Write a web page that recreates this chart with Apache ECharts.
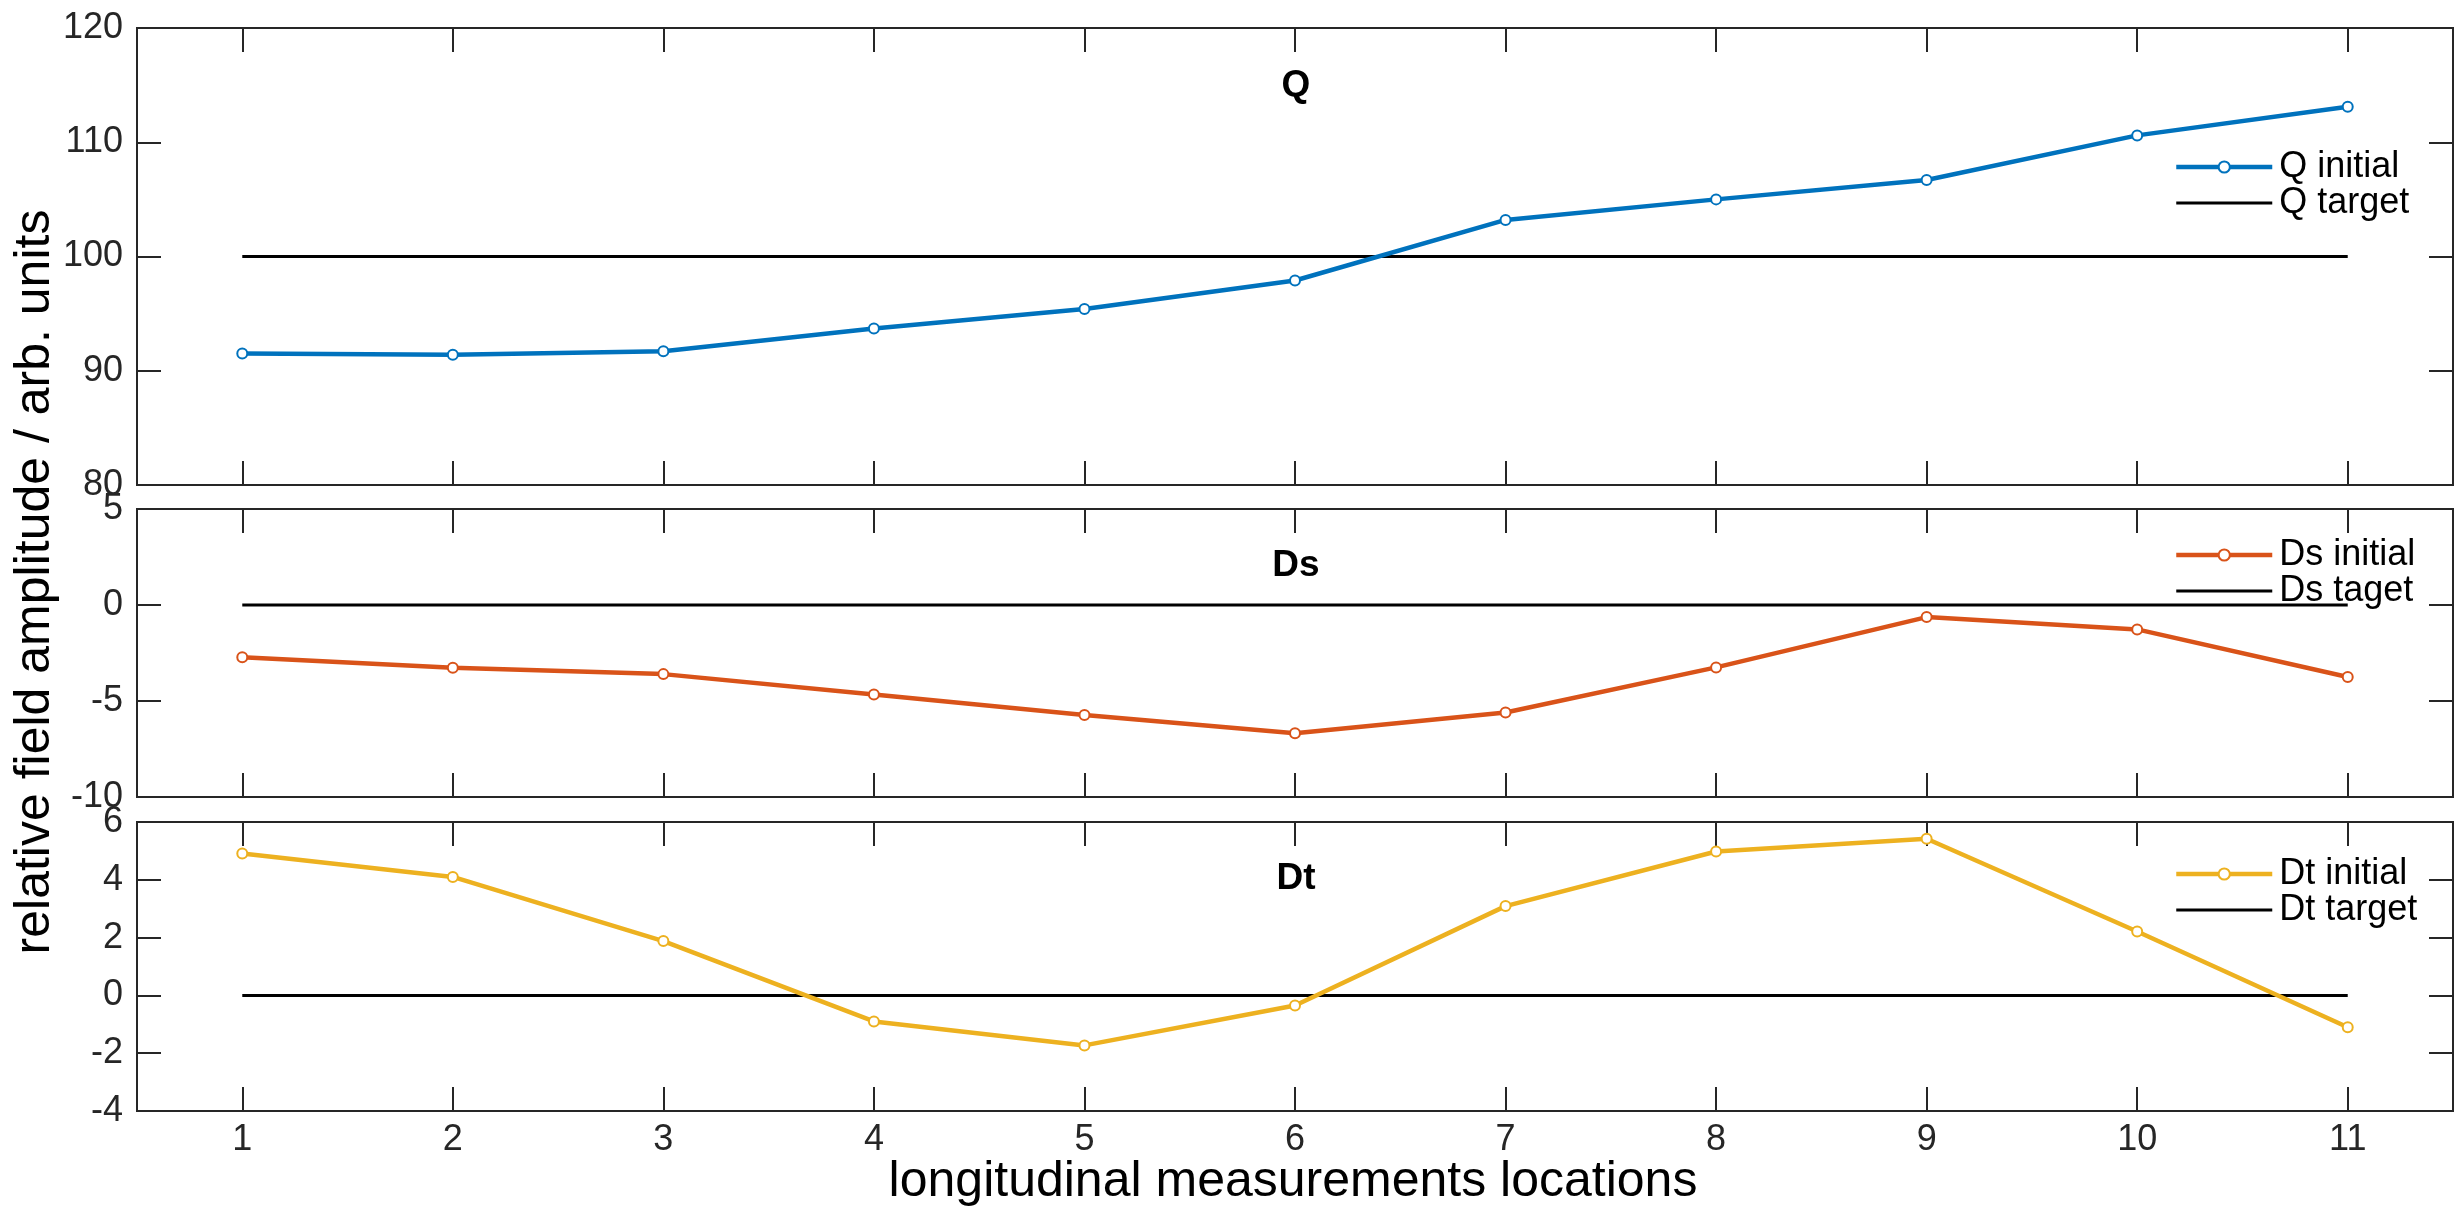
<!DOCTYPE html>
<html>
<head>
<meta charset="utf-8">
<script src="https://cdn.jsdelivr.net/npm/echarts@6/dist/echarts.min.js"></script>
<style>
  html, body { margin: 0; padding: 0; background: #fff; }
  #main { width: 2460px; height: 1225px; }
</style>
</head>
<body>
<div id="main"></div>
<script>
// measurement locations
const locations = ['1', '2', '3', '4', '5', '6', '7', '8', '9', '10', '11'];

// initial values
const qInitial = [91.5, 91.4, 91.7, 93.7, 95.4, 97.9, 103.2, 105.0, 106.7, 110.6, 113.1];
const dsInitial = [-2.72, -3.27, -3.6, -4.66, -5.73, -6.68, -5.6, -3.25, -0.63, -1.27, -3.75];
const dtInitial = [4.91, 4.1, 1.88, -0.9, -1.73, -0.35, 3.09, 4.98, 5.42, 2.21, -1.1];

// targets
const qTarget = [100, 100, 100, 100, 100, 100, 100, 100, 100, 100, 100];
const dsTarget = [0, 0, 0, 0, 0, 0, 0, 0, 0, 0, 0];
const dtTarget = [0, 0, 0, 0, 0, 0, 0, 0, 0, 0, 0];

// y ranges [min, max, interval]
const qRange = [80, 120, 10];
const dsRange = [-10, 5, 5];
const dtRange = [-4, 6, 2];

const FONT = "'Liberation Sans', Helvetica, Arial, sans-serif";
const AX = '#262626';
const colors = ['#0072BD', '#D95319', '#EDB120'];

// panel boxes (top, height)
const panels = [[28, 457], [509, 288], [822, 289]];

const chart = echarts.init(document.getElementById('main'));

const grid = panels.map(p => ({
  left: 137, right: 7, top: p[0], height: p[1],
  show: true, borderColor: AX, borderWidth: 2, backgroundColor: 'transparent'
}));

const xAxis = [];
const yAxis = [];
panels.forEach((p, i) => {
  ['bottom', 'top'].forEach(pos => {
    xAxis.push({
      type: 'category', data: locations, gridIndex: i, position: pos,
      boundaryGap: true,
      axisLine: { show: false, onZero: false },
      axisTick: { show: true, inside: true, length: 24, alignWithLabel: true, lineStyle: { color: AX, width: 2 } },
      axisLabel: { show: pos === 'bottom' && i === 2, margin: 11, color: AX, fontSize: 36, fontFamily: FONT },
      splitLine: { show: false }
    });
  });
});
const ranges = [qRange, dsRange, dtRange];
ranges.forEach((r, i) => {
  ['left', 'right'].forEach(pos => {
    yAxis.push({
      type: 'value', gridIndex: i, position: pos,
      min: r[0], max: r[1], interval: r[2],
      axisLine: { show: false },
      axisTick: { show: true, inside: true, length: 24, lineStyle: { color: AX, width: 2 } },
      axisLabel: { show: pos === 'left', margin: 14, color: AX, fontSize: 36, fontFamily: FONT },
      splitLine: { show: false }
    });
  });
});

function initialSeries(name, data, idx) {
  return {
    name: name, type: 'line', data: data,
    xAxisIndex: idx * 2, yAxisIndex: idx * 2,
    symbol: 'emptyCircle', symbolSize: 10,
    lineStyle: { color: colors[idx], width: 4.5 },
    itemStyle: { color: colors[idx], borderWidth: 5 },
    z: 3
  };
}
function targetSeries(name, data, idx) {
  return {
    name: name, type: 'line', data: data,
    xAxisIndex: idx * 2, yAxisIndex: idx * 2,
    symbol: 'none',
    lineStyle: { color: '#000', width: 3 },
    itemStyle: { color: '#000' },
    z: 2
  };
}

const series = [
  initialSeries('Q initial', qInitial, 0),
  targetSeries('Q target', qTarget, 0),
  initialSeries('Ds initial', dsInitial, 1),
  targetSeries('Ds taget', dsTarget, 1),
  initialSeries('Dt initial', dtInitial, 2),
  targetSeries('Dt target', dtTarget, 2)
];

function legendAt(names, top) {
  return {
    data: [
      { name: names[0], lineStyle: { width: 4.5 }, itemStyle: { borderWidth: 5 } },
      { name: names[1], lineStyle: { width: 3 }, itemStyle: { opacity: 0 } }
    ],
    orient: 'vertical', left: 2174, top: top,
    padding: 0, itemGap: 0, itemWidth: 96, itemHeight: 14,
    textStyle: { fontSize: 36, fontFamily: FONT, color: '#000', lineHeight: 32, padding: [0, 0, 0, 2] }
  };
}

const legend = [
  legendAt(['Q initial', 'Q target'], 149),
  legendAt(['Ds initial', 'Ds taget'], 537),
  legendAt(['Dt initial', 'Dt target'], 856)
];

function label(text, x, y, size, weight, rot) {
  return {
    type: 'text', x: x, y: y, rotation: rot || 0, silent: true,
    style: {
      text: text, fill: '#000', font: weight + ' ' + size + 'px ' + FONT,
      align: 'center', verticalAlign: 'middle'
    }
  };
}

const graphic = [
  label('Q', 1296, 86, 37, 'bold'),
  label('Ds', 1296, 566, 37, 'bold'),
  label('Dt', 1296, 879, 37, 'bold'),
  label('longitudinal measurements locations', 1293, 1182, 50, 'normal'),
  label('relative field amplitude / arb. units', 35, 582, 50, 'normal', Math.PI / 2)
];

chart.setOption({
  backgroundColor: '#fff',
  animation: false,
  grid: grid,
  xAxis: xAxis,
  yAxis: yAxis,
  legend: legend,
  graphic: graphic,
  series: series
});
</script>
</body>
</html>
